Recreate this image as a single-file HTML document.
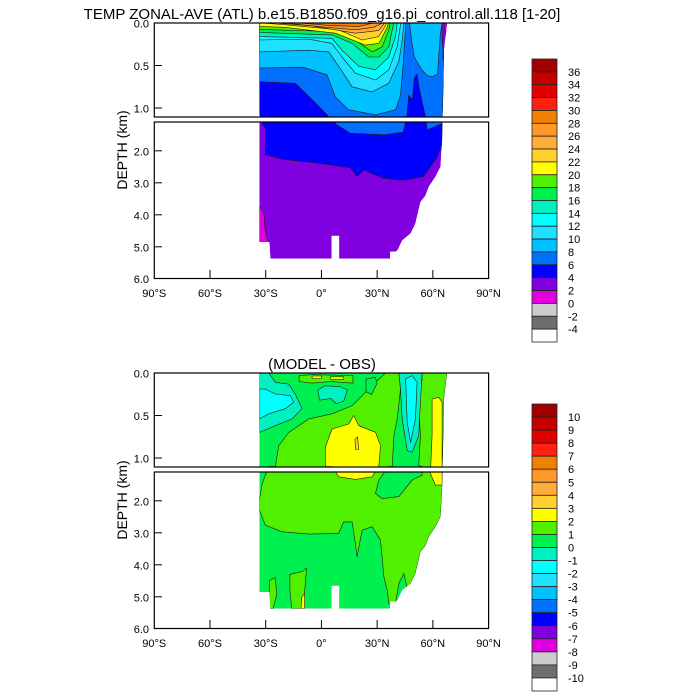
<!DOCTYPE html>
<html><head><meta charset="utf-8"><style>
html,body{margin:0;padding:0;background:#fff}
svg{display:block;font-family:"Liberation Sans",sans-serif}
</style></head><body>
<svg id="c" width="700" height="700" viewBox="0 0 700 700" xmlns="http://www.w3.org/2000/svg"></svg>
<script>
// ---- data (lat in degrees, depth in km) ----
const latTicks = [-90,-60,-30,0,30,60,90];
const latLabels = ["90°S","60°S","30°S","0°","30°N","60°N","90°N"];
const depthTicks = [0,0.5,1.0,2.0,3.0,4.0,5.0,6.0];
const depthLabels = ["0.0","0.5","1.0","2.0","3.0","4.0","5.0","6.0"];
const cbColors = ["#a00000","#c40000","#e00000","#ff2010","#f08000","#ff9828","#ffac38","#ffd030","#ffff00","#50f000","#00f050","#00f0c0","#00ffff","#20e0ff","#00c0ff","#0070ff","#0000ff","#8000e0","#e000e0","#cccccc","#6e6e6e","#ffffff"];
const tempLevels = ["36","34","32","30","28","26","24","22","20","18","16","14","12","10","8","6","4","2","0","-2","-4"];
const diffLevels = ["10","9","8","7","6","5","4","3","2","1","0","-1","-2","-3","-4","-5","-6","-7","-8","-9","-10"];
const oceanMask = [[-33.4,0],[-33.4,4.85],[-28,4.85],[-27.5,5.37],[5.5,5.37],[5.5,4.66],[9.5,4.66],[9.5,5.37],[37,5.37],[37,5.15],[40,5.15],[41,5.1],[43.5,4.8],[48,4.58],[50.6,4.27],[53.3,3.6],[56,3.4],[57.8,3.12],[61.4,2.81],[64.1,2.5],[65,1.66],[65.2,1.1],[65.5,0.9],[66,0.3],[67.7,0]];
// temperature layers (region warmer than level)
const tMagenta = [[-33.4,3.75],[-31,3.95],[-30.5,4.4],[-29,4.8],[-28,4.86],[-33.4,4.86]];
const tBlue4 = [[-33.4,0],[-33.4,1.05],[-32,1.15],[-30.2,1.3],[-30.2,2.12],[-20.3,2.27],[-2.3,2.38],[15.6,2.53],[19.2,2.8],[22.8,2.6],[33.6,2.86],[44.4,2.92],[55,2.8],[62.3,2.2],[65,1.8],[65.2,1.1],[66,0.3],[66.5,0]];
const t6 = [[-33.4,0],[-33.4,0.69],[-14,0.71],[-3.2,0.94],[3.8,1.1],[8.4,1.19],[15.6,1.45],[33.6,1.5],[44,1.42],[46,1.1],[47,0.85],[49,0.9],[50,0.65],[51.5,0.6],[52.5,0.75],[54,0.9],[56,1.1],[57,1.35],[60.6,1.25],[65,1.15],[65.2,1.1],[66,0.3],[66.5,0]];
const t8 = [[-33.4,0],[-33.4,0.53],[-10,0.52],[3,0.61],[7.5,0.87],[14.5,1.02],[29,1.08],[40,1.02],[42.5,0.85],[44,0.5],[45,0.15],[45.5,0]];
const t8b = [[47.5,0],[48.5,0.2],[50,0.4],[54,0.55],[57,0.62],[60,0.63],[62.5,0.6],[63.5,0.3],[64,0.13],[65,0]];
const t10 = [[-33.4,0],[-33.4,0.34],[-7,0.32],[3.9,0.34],[9.3,0.51],[16.5,0.75],[27.3,0.81],[36.3,0.71],[41.7,0.45],[43.5,0.2],[44.4,0]];
const t12 = [[-33.4,0],[-33.4,0.2],[-7,0.19],[5.7,0.24],[11.1,0.4],[18.3,0.59],[29.1,0.67],[36.3,0.55],[40.8,0.28],[42.6,0.02],[42.6,0]];
const t14 = [[-33.4,0],[-33.4,0.16],[5.7,0.18],[11.1,0.32],[20.1,0.51],[29.1,0.55],[36.3,0.4],[39.9,0.16],[40.8,0]];
const t16 = [[-33.4,0],[-33.4,0.11],[5.7,0.14],[16.5,0.24],[25.5,0.4],[31,0.4],[36.3,0.28],[38.1,0.08],[39,0]];
const t18 = [[-33.4,0],[-33.4,0.075],[5.7,0.1],[18.3,0.2],[27.3,0.34],[32.7,0.28],[36.3,0.08],[37,0]];
const t20 = [[-33.4,0],[-33.4,0.04],[-20,0.05],[7.5,0.12],[23.7,0.26],[30.9,0.24],[35.4,0.05],[36,0]];
const t22 = [[-32,0],[-20,0.02],[9.3,0.08],[21.9,0.2],[30.9,0.16],[34.5,0.03],[35,0]];
const t24 = [[-25,0],[-5,0.035],[18.3,0.12],[30.9,0.09],[34,0]];
const t26 = [[-20,0],[0,0.045],[18.3,0.08],[28,0.05],[33,0]];
const t28 = [[-12,0],[5,0.03],[20,0.04],[28,0]];
const tEdgePurple = [[64.8,0],[67.7,0],[67,0.3],[65.6,0.42],[65,0.12]];
const tEdgeMagenta = [[66.3,0],[67.7,0],[67.2,0.22]];
// difference layers
const dTeal = [[-33.4,0],[-33.4,0.7],[-24.8,0.62],[-15.8,0.54],[-10.4,0.42],[-14,0.25],[-17.6,0.13],[-24.8,0.11],[-28.4,0]];
const dCyan = [[-33.4,0.19],[-33.4,0.54],[-28.4,0.48],[-19.4,0.42],[-14.9,0.345],[-16.7,0.267],[-24.8,0.247],[-30.2,0.19]];
const dTealMid = [[-2,0.2],[2,0.15],[10,0.16],[14,0.2],[12,0.33],[8,0.36],[5,0.3],[-1,0.32]];
const dStrip = [[-12,0.03],[-5,0.02],[17,0.03],[17,0.12],[5,0.1],[-5,0.12],[-12,0.1]];
const dDot1 = [[-5,0.035],[0,0.035],[0,0.065],[-5,0.065]];
const dDot2 = [[5,0.045],[12,0.045],[12,0.075],[5,0.075]];
const dDot3 = [[41.5,0],[43,0],[42.8,0.06],[41.7,0.06]];
const dBig = [[-24.8,1.1],[-23,0.855],[-17.6,0.7],[-6.8,0.54],[5.7,0.48],[16.5,0.384],[21.9,0.267],[29.1,0.11],[34.5,0],[41.7,0],[42.6,0.19],[40.8,0.54],[39,0.737],[38.1,1.1],[36.3,1.1],[30.9,1.35],[29.1,1.77],[32.7,1.93],[41.7,1.87],[48.9,1.35],[54.2,1.2],[54.2,1.1],[52.4,1.09],[53.3,0.737],[52.4,0.345],[54.2,0.07],[54.2,0],[67.7,0],[66,0.3],[65.2,1.1],[65,1.66],[64.1,2.5],[61.4,2.81],[57.8,3.12],[56,3.4],[53.3,3.6],[50.6,4.27],[48,4.58],[46,4.7],[44.4,4.27],[41.7,4.58],[39.9,5.21],[36.3,5.21],[35.4,4.79],[33.6,4.37],[33,3.96],[31.8,3.23],[27.3,2.81],[21.9,2.92],[20.5,3.33],[19.2,3.75],[18.3,3.33],[16.5,2.66],[12,2.66],[9.3,3.02],[-6.8,3.04],[-21.2,2.97],[-30.2,2.76],[-33.4,2.29],[-33.4,1.98],[-31.9,1.46],[-28.4,1.1]];
const dIsland = [[24,0.07],[29,0.05],[30,0.12],[27,0.25],[24,0.22]];
const dTealCol = [[41.7,0],[54.2,0],[53.3,0.345],[52.4,0.737],[48.9,0.933],[46.2,0.914],[43.5,0.54],[42.6,0.19]];
const dCyanCol = [[45.3,0.07],[48.9,0.03],[51.5,0.11],[50.6,0.54],[48,0.816],[46.2,0.58]];
const dYellowRight = [[59.6,0.306],[63.2,0.286],[65,0.345],[65,1.51],[61.4,1.51],[58.7,1.147],[59.6,0.737]];
const dYellowBlob = [[2.1,0.875],[5.7,0.659],[14.7,0.6],[17.4,0.5],[20.1,0.62],[29.1,0.698],[31.8,0.855],[30.9,1.1],[27.3,1.25],[18.3,1.33],[9.3,1.25],[5.7,1.1],[2.1,1.1]];
const dOrangeSpot = [[18,0.78],[19.5,0.75],[20,0.9],[18.5,0.9]];
const dPatch1 = [[-28,4.5],[-25,4.4],[-24,4.9],[-26,5.37],[-28,5.37]];
const dPatch2 = [[-17,4.3],[-10,4.2],[-8,4.1],[-9,4.8],[-9.5,5.37],[-16,5.37],[-17,4.8]];
const dPatch3 = [[-10.5,5.0],[-9,4.9],[-9,5.37],[-11,5.37]];

// ---- axes ----
const NS="http://www.w3.org/2000/svg";
const svg=document.getElementById('c');
const X0=154.3, XS=1.857;
function xOf(lat){return X0+(lat+90)*XS;}
function yOf(d,off){return d<=1.1 ? off+23+85*d : off+122+32*(d-1.1);}
function el(tag,attrs,parent){const e=document.createElementNS(NS,tag);for(const k in attrs)e.setAttribute(k,attrs[k]);(parent||svg).appendChild(e);return e;}
function pts(arr,off){return arr.map(p=>xOf(p[0]).toFixed(1)+','+yOf(p[1],off).toFixed(1)).join(' ');}

function panel(off,layers,name,bgColor){
  const cp=el('clipPath',{id:'clip'+name});
  el('polygon',{points:pts(oceanMask,off)},cp);
  const g=el('g',{'clip-path':'url(#clip'+name+')'});
  
  
  const bg=el('polygon',{points:pts(oceanMask,off),fill:bgColor},g);
  
  
  layers.forEach(L=>{
    const p=el('polygon',{points:pts(L[1],off),fill:L[0],stroke:'#1a1a1a','stroke-width':0.6,'stroke-linejoin':'round'},g);
    
    
  });
  el('rect',{x:150,y:off+117,width:345,height:5,fill:'#fff'});
  const b1=el('rect',{x:154.3,y:off+23,width:334.3,height:94,fill:'none',stroke:'#000','stroke-width':1.2});
  
  
  const b2=el('rect',{x:154.3,y:off+122,width:334.3,height:156.5,fill:'none',stroke:'#000','stroke-width':1.2});
  
  
  depthTicks.forEach((d,i)=>{
    const y=yOf(d,off)+(d===6?-0.3:0);
    if(d>0&&d<6) el('line',{x1:154.3,y1:y,x2:162,y2:y,stroke:'#000','stroke-width':1});
    const t=el('text',{x:149,y:y+4.5,'text-anchor':'end','font-size':11});
    t.textContent=depthLabels[i];
    
    
  });
  latTicks.forEach((lat,i)=>{
    const x=xOf(lat);
    if(lat>-90&&lat<90) el('line',{x1:x,y1:off+278.5,x2:x,y2:off+270,stroke:'#000','stroke-width':1});
    const t=el('text',{x:x,y:off+297,'text-anchor':'middle','font-size':11});
    t.textContent=latLabels[i];
    
    
  });
  const yl=el('text',{x:0,y:0,'text-anchor':'middle','font-size':14,transform:'translate(127,'+(off+150)+') rotate(-90)'});
  yl.textContent='DEPTH (km)';
  
  
}

function colorbar(top,h,labels,name){
  const g=el('g',{});
  
  
  const bh=h/cbColors.length;
  cbColors.forEach((c,i)=>{
    const r=el('rect',{x:532,y:top+i*bh,width:25,height:bh,fill:c,stroke:'#222','stroke-width':0.8},g);
    
    
  });
  labels.forEach((s,i)=>{
    const t=el('text',{x:568,y:top+(i+1)*bh+4,'font-size':11},g);
    t.textContent=s;
    
    
  });
}

const tempLayers=[['#e000e0',tMagenta],['#0000ff',tBlue4],['#0070ff',t6],['#00c0ff',t8],['#00c0ff',t8b],['#20e0ff',t10],['#00ffff',t12],['#00f0c0',t14],['#00f050',t16],['#50f000',t18],['#ffff00',t20],['#ffd030',t22],['#ffac38',t24],['#ff9828',t26],['#f08000',t28],['#8000e0',tEdgePurple],['#e000e0',tEdgeMagenta]];
const diffLayers=[['#00f0c0',dTeal],['#00ffff',dCyan],['#00f0c0',dTealMid],['#50f000',dStrip],['#ffff00',dDot1],['#ffff00',dDot2],['#ffff00',dDot3],['#50f000',dBig],['#00f050',dIsland],['#00f0c0',dTealCol],['#00ffff',dCyanCol],['#ffff00',dYellowRight],['#ffff00',dYellowBlob],['#ffd030',dOrangeSpot],['#50f000',dPatch1],['#50f000',dPatch2],['#ffff00',dPatch3]];

panel(0,tempLayers,'temperature','#8000e0');
panel(350,diffLayers,'difference','#00f050');
colorbar(59,283,tempLevels,'temperature-colorbar');
colorbar(404,287,diffLevels,'difference-colorbar');

const t1=el('text',{x:322,y:19,'text-anchor':'middle','font-size':15});
t1.textContent='TEMP ZONAL-AVE (ATL) b.e15.B1850.f09_g16.pi_control.all.118 [1-20]';


const t2=el('text',{x:322,y:369,'text-anchor':'middle','font-size':15});
t2.textContent='(MODEL - OBS)';


</script>
</body></html>
